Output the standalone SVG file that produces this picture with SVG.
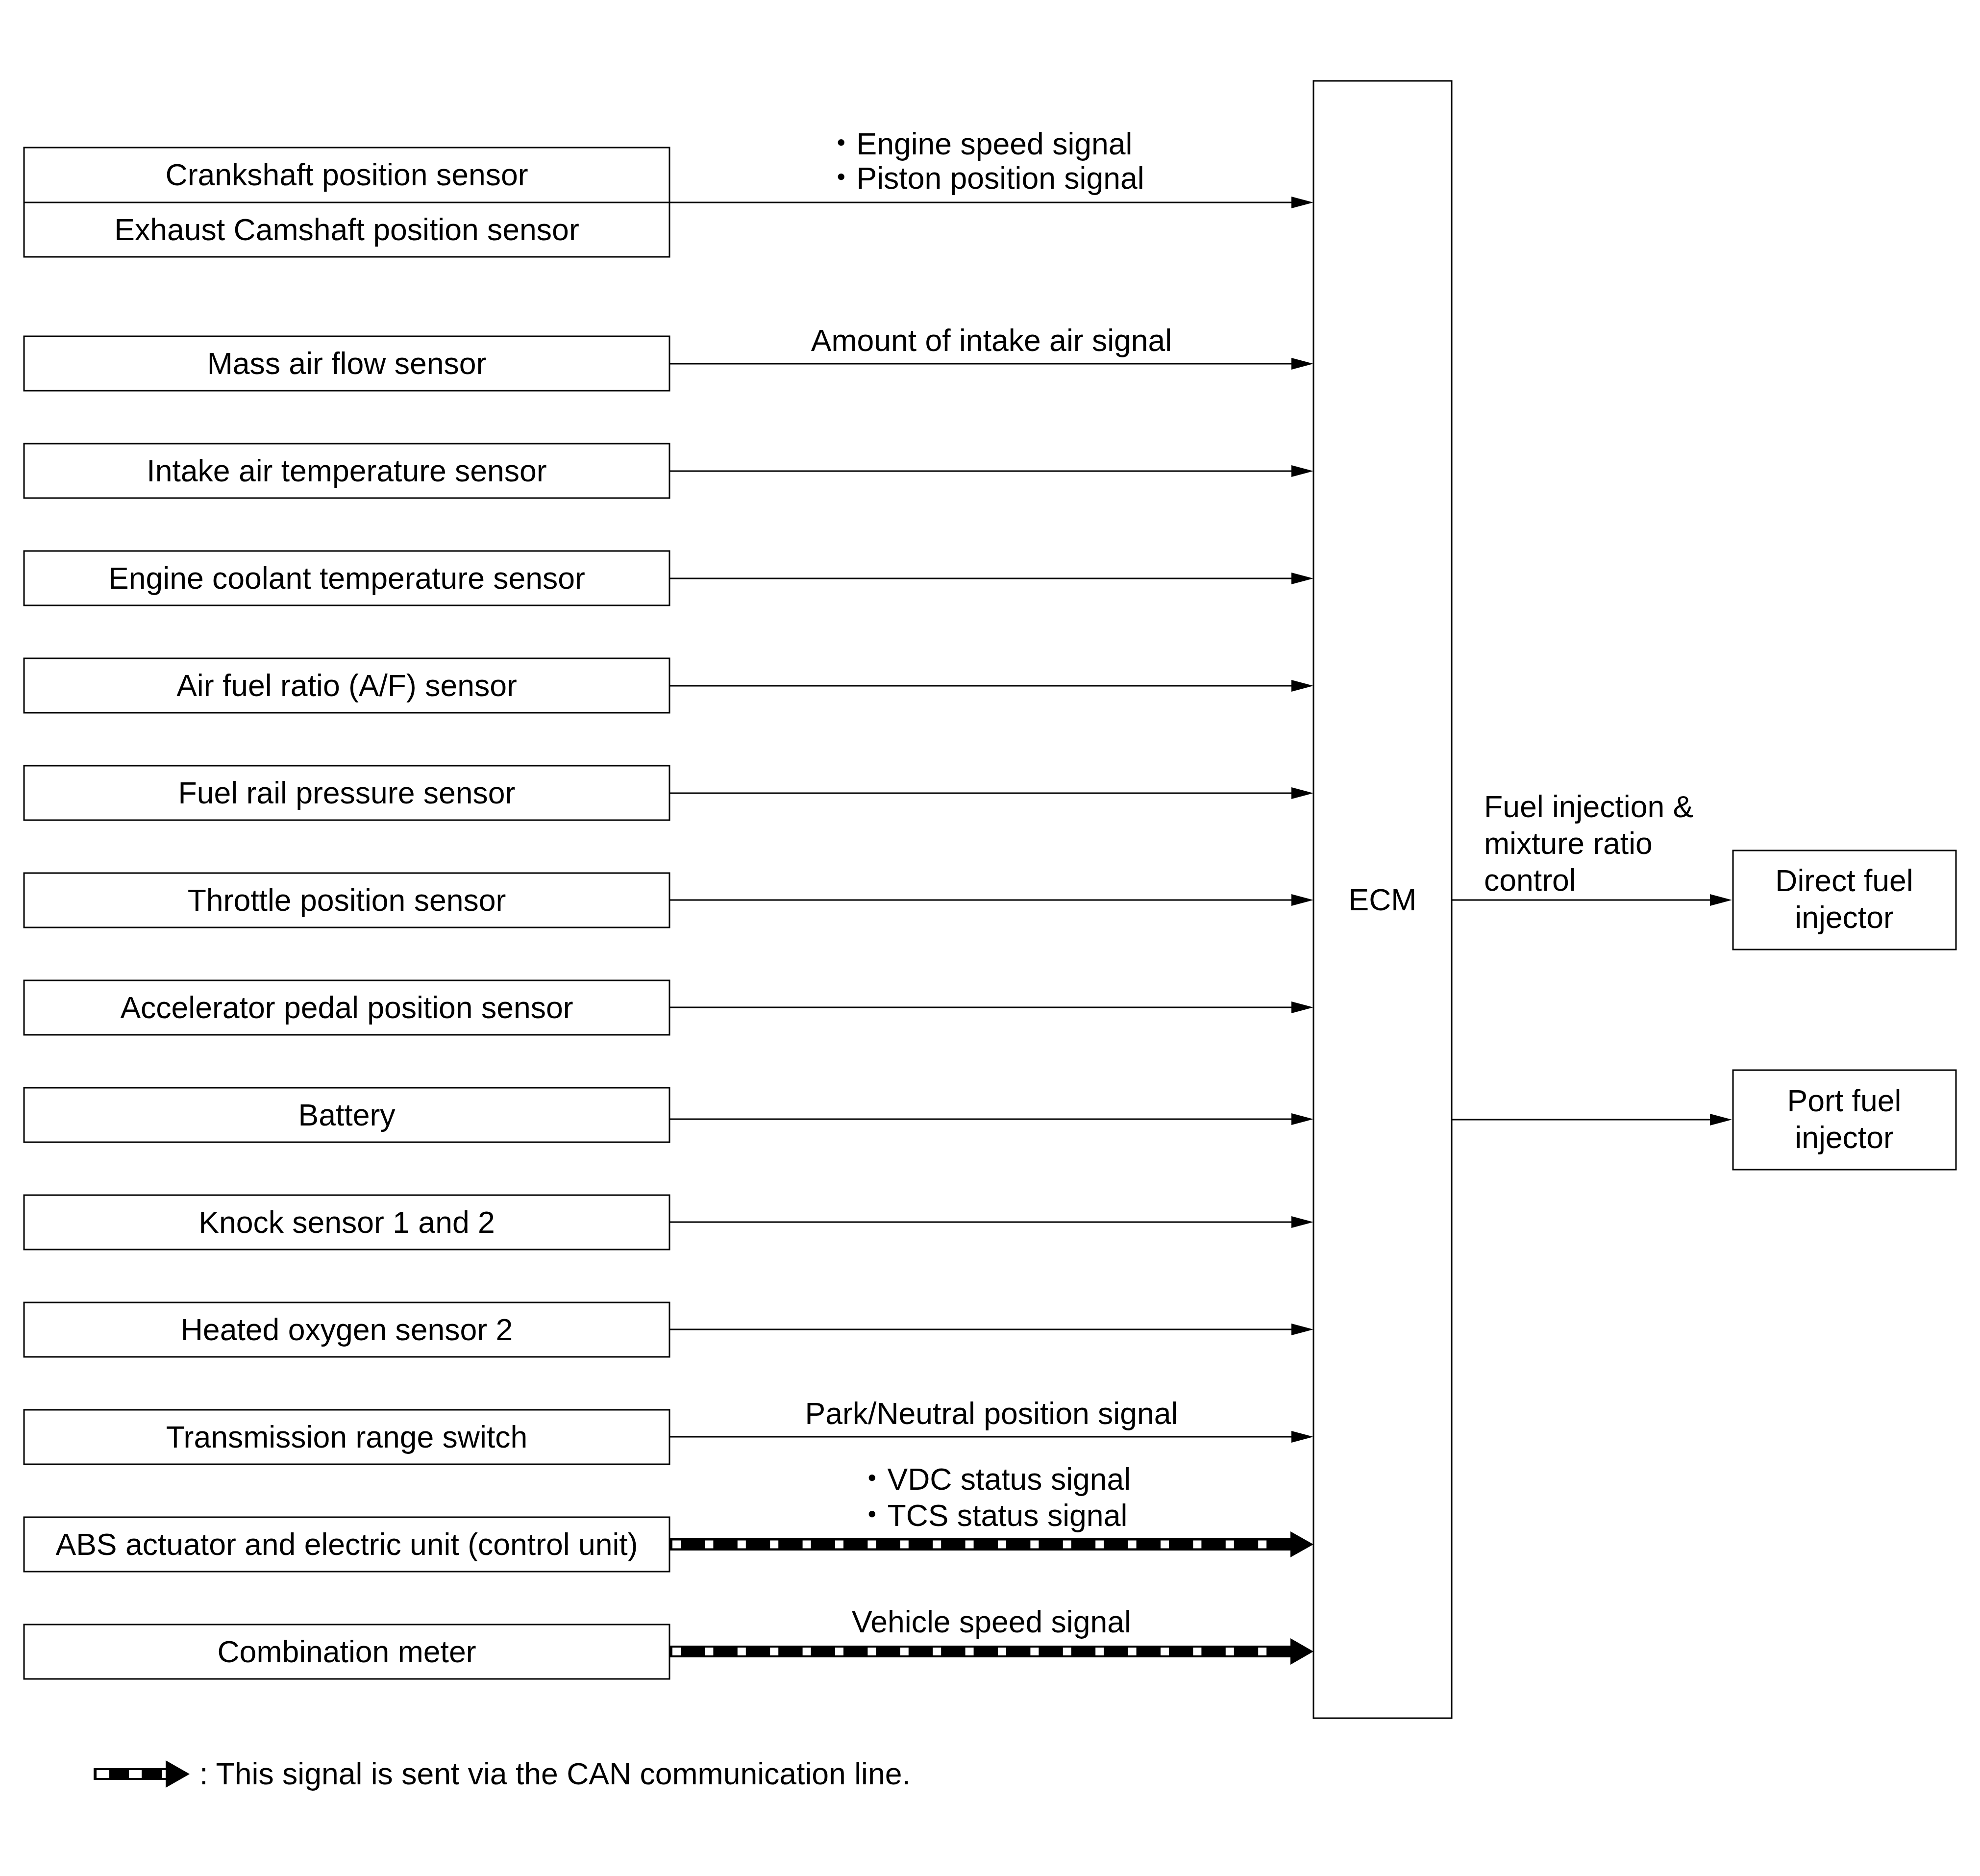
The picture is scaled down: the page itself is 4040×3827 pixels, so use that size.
<svg xmlns="http://www.w3.org/2000/svg" width="4040" height="3827" viewBox="0 0 4040 3827">
<style>
.bg{fill:#fff}
.box{fill:#fff;stroke:#000;stroke-width:3}
.t{font-family:"Liberation Sans",Arial,"Noto Sans CJK JP",sans-serif;font-size:62.5px;fill:#000}
.c{text-anchor:middle}
.ln{stroke:#000;stroke-width:3;fill:none;marker-end:url(#ah)}
.band{fill:#000}
.dash{stroke:#fff;stroke-width:16;stroke-dasharray:17 49.4;fill:none}
.head{fill:#000}
</style>
<defs>
<marker id="ah" markerUnits="userSpaceOnUse" markerWidth="46" markerHeight="24" refX="25" refY="12" orient="auto">
<path d="M0,0 L45,12 L0,24 Z" fill="#000"/>
</marker>
</defs>
<rect class="bg" x="0" y="0" width="4040" height="3827"/>

<g id="connectors">
<line class="ln" x1="1366" y1="413" x2="2660" y2="413"/>
<line class="ln" x1="1366" y1="742" x2="2660" y2="742"/>
<line class="ln" x1="1366" y1="961" x2="2660" y2="961"/>
<line class="ln" x1="1366" y1="1180" x2="2660" y2="1180"/>
<line class="ln" x1="1366" y1="1399" x2="2660" y2="1399"/>
<line class="ln" x1="1366" y1="1618" x2="2660" y2="1618"/>
<line class="ln" x1="1366" y1="1836" x2="2660" y2="1836"/>
<line class="ln" x1="1366" y1="2055" x2="2660" y2="2055"/>
<line class="ln" x1="1366" y1="2283" x2="2660" y2="2283"/>
<line class="ln" x1="1366" y1="2493" x2="2660" y2="2493"/>
<line class="ln" x1="1366" y1="2712" x2="2660" y2="2712"/>
<line class="ln" x1="1366" y1="2931" x2="2660" y2="2931"/>
<g id="can-abs">
<rect class="band" x="1366" y="3138" width="1269" height="25"/>
<line class="dash" x1="1372" y1="3150.5" x2="2585" y2="3150.5"/>
<polygon class="head" points="2633,3124 2680,3150.5 2633,3177"/>
</g>
<g id="can-meter">
<rect class="band" x="1366" y="3357" width="1269" height="24"/>
<line class="dash" x1="1372" y1="3369" x2="2585" y2="3369"/>
<polygon class="head" points="2633,3342 2680,3369 2633,3396"/>
</g>
<line class="ln" x1="2962" y1="1836" x2="3514" y2="1836"/>
<line class="ln" x1="2962" y1="2284" x2="3514" y2="2284"/>
<text class="t" x="1685" y="315">・Engine speed signal</text>
<text class="t" x="1685" y="385">・Piston position signal</text>
<text class="t c" x="2023" y="716">Amount of intake air signal</text>
<text class="t c" x="2023" y="2905">Park/Neutral position signal</text>
<text class="t" x="1748" y="3039">・VDC status signal</text>
<text class="t" x="1748" y="3113">・TCS status signal</text>
<text class="t c" x="2023" y="3330">Vehicle speed signal</text>
<text class="t" x="3028" y="1667">Fuel injection &amp;</text>
<text class="t" x="3028" y="1742">mixture ratio</text>
<text class="t" x="3028" y="1817">control</text>
</g>

<g id="crankshaft-exhaust-camshaft">
<rect class="box" x="49" y="301" width="1317" height="223"/>
<line x1="49" y1="413" x2="1366" y2="413" stroke="#000" stroke-width="3"/>
<text class="t c" x="707.5" y="378">Crankshaft position sensor</text>
<text class="t c" x="707.5" y="490">Exhaust Camshaft position sensor</text>
</g>
<g id="maf"><rect class="box" x="49" y="686" width="1317" height="111"/><text class="t c" x="707.5" y="763">Mass air flow sensor</text></g>
<g id="iat"><rect class="box" x="49" y="905" width="1317" height="111"/><text class="t c" x="707.5" y="982">Intake air temperature sensor</text></g>
<g id="ect"><rect class="box" x="49" y="1124" width="1317" height="111"/><text class="t c" x="707.5" y="1201">Engine coolant temperature sensor</text></g>
<g id="af"><rect class="box" x="49" y="1343" width="1317" height="111"/><text class="t c" x="707.5" y="1420">Air fuel ratio (A/F) sensor</text></g>
<g id="frp"><rect class="box" x="49" y="1562" width="1317" height="111"/><text class="t c" x="707.5" y="1639">Fuel rail pressure sensor</text></g>
<g id="tps"><rect class="box" x="49" y="1781" width="1317" height="111"/><text class="t c" x="707.5" y="1858">Throttle position sensor</text></g>
<g id="apps"><rect class="box" x="49" y="2000" width="1317" height="111"/><text class="t c" x="707.5" y="2077">Accelerator pedal position sensor</text></g>
<g id="battery"><rect class="box" x="49" y="2219" width="1317" height="111"/><text class="t c" x="707.5" y="2296">Battery</text></g>
<g id="knock"><rect class="box" x="49" y="2438" width="1317" height="111"/><text class="t c" x="707.5" y="2515">Knock sensor 1 and 2</text></g>
<g id="ho2s2"><rect class="box" x="49" y="2657" width="1317" height="111"/><text class="t c" x="707.5" y="2734">Heated oxygen sensor 2</text></g>
<g id="trs"><rect class="box" x="49" y="2876" width="1317" height="111"/><text class="t c" x="707.5" y="2953">Transmission range switch</text></g>
<g id="abs"><rect class="box" x="49" y="3095" width="1317" height="111"/><text class="t c" x="707.5" y="3172">ABS actuator and electric unit (control unit)</text></g>
<g id="meter"><rect class="box" x="49" y="3314" width="1317" height="111"/><text class="t c" x="707.5" y="3391">Combination meter</text></g>

<g id="ecm"><rect class="box" x="2680" y="165" width="282" height="3340"/><text class="t c" x="2821" y="1857">ECM</text></g>
<g id="direct-injector"><rect class="box" x="3536" y="1735" width="455" height="202"/><text class="t c" x="3763" y="1818">Direct fuel</text><text class="t c" x="3763" y="1893">injector</text></g>
<g id="port-injector"><rect class="box" x="3536" y="2183" width="455" height="203"/><text class="t c" x="3763" y="2267">Port fuel</text><text class="t c" x="3763" y="2342">injector</text></g>

<g id="legend">
<rect class="band" x="191" y="3607" width="149" height="24"/>
<rect x="197" y="3611" width="26" height="16" fill="#fff"/>
<rect x="263" y="3611" width="26" height="16" fill="#fff"/>
<rect x="330" y="3611" width="10" height="16" fill="#fff"/>
<polygon class="head" points="338,3591 387,3619 338,3647"/>
<text class="t" x="407" y="3640">: This signal is sent via the CAN communication line.</text>
</g>
</svg>
